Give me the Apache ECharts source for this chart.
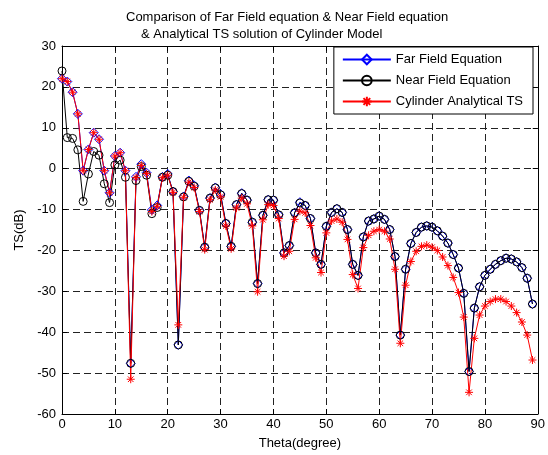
<!DOCTYPE html>
<html>
<head>
<meta charset="utf-8">
<script src="https://cdn.jsdelivr.net/npm/echarts@6/dist/echarts.min.js"></script>
<style>html,body{margin:0;padding:0;background:#fff;}#c{width:548px;height:455px;}</style>
</head>
<body>
<div id="c"></div>
<script>
// Theta in degrees
const theta = [];
for (let i = 0; i <= 89; i++) theta.push(i);

const farField = [22.0,21.3,18.7,13.4,-0.5,4.7,8.8,7.2,-0.5,-5.9,
  3.1,3.9,-0.5,-47.6,-2.0,1.1,-1.0,-10.1,-9.0,-2.0,
  -1.3,-5.6,-43.1,-6.8,-2.9,-4.1,-10.2,-19.2,-7.2,-4.6,
  -6.2,-13.4,-19.0,-8.8,-6.0,-7.7,-13.1,-28.1,-11.4,-7.6,
  -7.7,-11.3,-20.6,-18.8,-10.8,-8.2,-9.0,-12.2,-20.6,-23.4,
  -14.1,-10.7,-9.8,-10.7,-14.9,-23.4,-26.1,-16.7,-12.8,-12.3,
  -11.6,-12.4,-14.9,-21.5,-40.7,-24.6,-18.3,-15.6,-14.3,-14.0,
  -14.3,-15.2,-16.5,-18.2,-21.0,-24.3,-30.5,-49.6,-34.1,-28.9,
  -26.1,-24.6,-23.4,-22.5,-21.9,-22.1,-22.8,-24.2,-26.8,-33.1];

const nearField = [23.9,7.6,7.4,4.6,-8.0,-1.3,4.2,3.3,-3.7,-8.3,
  0.9,2.1,-2.1,-47.6,-2.9,0.5,-1.6,-11.0,-9.5,-2.1,
  -1.6,-5.6,-43.1,-6.9,-3.1,-4.3,-10.2,-19.2,-7.2,-4.7,
  -6.4,-13.4,-19.0,-8.8,-6.1,-7.7,-13.1,-28.1,-11.4,-7.6,
  -7.7,-11.3,-20.6,-18.8,-10.8,-8.4,-9.0,-12.2,-20.6,-23.4,
  -14.1,-10.7,-9.8,-10.7,-14.9,-23.4,-26.1,-16.7,-12.8,-12.3,
  -11.6,-12.4,-14.9,-21.5,-40.7,-24.6,-18.3,-15.6,-14.3,-14.0,
  -14.3,-15.2,-16.5,-18.2,-21.0,-24.3,-30.5,-49.6,-34.1,-28.9,
  -26.1,-24.6,-23.4,-22.5,-21.9,-22.1,-22.8,-24.2,-26.8,-33.1];

const analytical = [22.0,21.3,18.7,13.4,-0.5,4.7,8.8,7.2,-0.5,-5.9,
  3.1,3.9,-0.5,-51.5,-2.2,0.8,-1.2,-10.5,-9.2,-2.2,
  -1.6,-5.8,-38.2,-7.0,-3.3,-4.6,-10.5,-19.8,-7.6,-5.2,
  -6.9,-14.0,-19.6,-9.6,-7.2,-8.6,-14.0,-30.1,-12.5,-8.8,
  -9.0,-12.2,-21.4,-20.2,-12.4,-10.4,-10.8,-13.9,-21.8,-25.4,
  -15.7,-12.8,-12.3,-13.1,-17.3,-25.9,-29.3,-19.3,-16.3,-15.3,
  -14.9,-15.3,-17.2,-24.6,-42.7,-28.5,-22.7,-20.2,-19.0,-18.7,
  -19.2,-20.0,-21.6,-23.7,-26.6,-30.3,-36.3,-54.7,-41.5,-35.8,
  -33.6,-32.5,-31.9,-31.9,-32.5,-33.6,-35.2,-37.5,-40.7,-46.8];

const seriesNames = ['Far Field Equation','Near Field Equation','Cylinder Analytical TS'];
const titleLine1 = 'Comparison of Far Field equation & Near Field equation';
const titleLine2 = '& Analytical TS solution of Cylinder Model';

const pair = (ys) => theta.map((x, i) => [x, ys[i]]);
const asterisk = 'path://M0,-10L0,10M-10,0L10,0M-7,-7L7,7M-7,7L7,-7';
const FONT = 'Liberation Sans, Arial, Helvetica, sans-serif';
const gridDash = {color: '#222', type: [7, 4], width: 1};

const chart = echarts.init(document.getElementById('c'), null, {renderer: 'canvas'});
chart.setOption({
  animation: false,
  backgroundColor: '#fff',
  textStyle: {fontFamily: FONT, color: '#000'},
  title: [
    {text: titleLine1, left: 121, top: 6, textStyle: {fontSize: 13, fontWeight: 'normal', color: '#000', fontFamily: FONT}},
    {text: titleLine2, left: 136, top: 23, textStyle: {fontSize: 13, fontWeight: 'normal', color: '#000', fontFamily: FONT}}
  ],
  grid: {left: 62, right: 10, top: 46, bottom: 41, show: false},
  legend: {
    orient: 'vertical', right: 15, top: 47,
    backgroundColor: '#fff', borderColor: '#000', borderWidth: 1,
    padding: [6, 10, 6, 8], itemGap: 8,
    itemWidth: 48, itemHeight: 12,
    textStyle: {fontSize: 13, color: '#000', fontFamily: FONT},
    data: seriesNames
  },
  xAxis: [{
    type: 'value', min: 0, max: 90, interval: 10,
    name: 'Theta(degree)', nameLocation: 'middle', nameGap: 23,
    nameTextStyle: {fontSize: 13, color: '#000', fontFamily: FONT},
    axisLine: {show: true, onZero: false, lineStyle: {color: '#000', width: 1}},
    axisTick: {show: true, inside: true, length: 5, lineStyle: {color: '#000'}},
    axisLabel: {fontSize: 13, color: '#000', margin: 4, fontFamily: FONT},
    splitLine: {show: true, lineStyle: gridDash}
  }, {
    type: 'value', min: 0, max: 90, interval: 10, position: 'top',
    axisLine: {show: true, onZero: false, lineStyle: {color: '#000', width: 1}},
    axisTick: {show: true, inside: true, length: 5, lineStyle: {color: '#000'}},
    axisLabel: {show: false}, splitLine: {show: false}
  }],
  yAxis: [{
    type: 'value', min: -60, max: 30, interval: 10,
    name: 'TS(dB)', nameLocation: 'middle', nameGap: 34,
    nameTextStyle: {fontSize: 13, color: '#000', fontFamily: FONT},
    axisLine: {show: true, onZero: false, lineStyle: {color: '#000', width: 1}},
    axisTick: {show: true, inside: true, length: 5, lineStyle: {color: '#000'}},
    axisLabel: {fontSize: 13, color: '#000', margin: 6, fontFamily: FONT},
    splitLine: {show: true, lineStyle: gridDash}
  }, {
    type: 'value', min: -60, max: 30, interval: 10, position: 'right',
    axisLine: {show: true, onZero: false, lineStyle: {color: '#000', width: 1}},
    axisTick: {show: true, inside: true, length: 5, lineStyle: {color: '#000'}},
    axisLabel: {show: false}, splitLine: {show: false}
  }],
  series: [{
    name: seriesNames[0], type: 'line', data: pair(farField),
    symbol: 'diamond', symbolSize: 9,
    lineStyle: {color: '#0000ff', width: 1},
    itemStyle: {color: 'rgba(255,255,255,0)', borderColor: '#0000ff', borderWidth: 1}
  }, {
    name: seriesNames[1], type: 'line', data: pair(nearField),
    symbol: 'circle', symbolSize: 8,
    lineStyle: {color: '#000', width: 1},
    itemStyle: {color: 'rgba(255,255,255,0)', borderColor: '#000', borderWidth: 1}
  }, {
    name: seriesNames[2], type: 'line', data: pair(analytical),
    symbol: asterisk, symbolSize: 8,
    lineStyle: {color: '#ff0000', width: 1},
    itemStyle: {color: '#ff0000', borderColor: '#ff0000', borderWidth: 1}
  }]
});
</script>
</body>
</html>
